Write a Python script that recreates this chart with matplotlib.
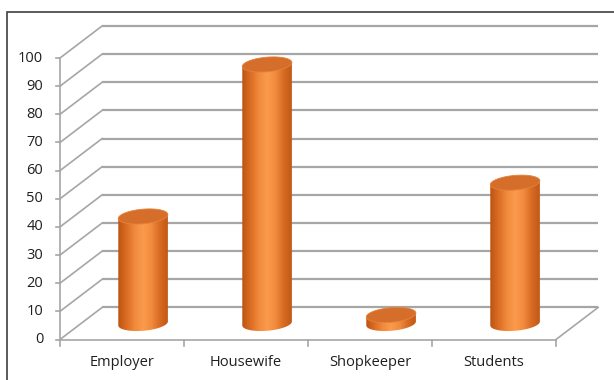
import numpy as np
import matplotlib.pyplot as plt
from matplotlib.patches import Polygon, Rectangle
from matplotlib.colors import LinearSegmentedColormap

categories = ['Employer', 'Housewife', 'Shopkeeper', 'Students']
values = [38, 92, 3, 50]
y_ticks = list(range(0, 101, 10))

# 3-d look: the back wall sits this far behind the front plane (data units)
depth_x = 0.34      # in category widths
depth_y = 11.4      # in value units
cyl_w = 0.40        # cylinder diameter, category widths
cyl_eh = 2.6        # half height of the end ellipses, value units
shear = 3.5         # slight tilt of the ellipses (value units per category width)

grid_col = '#a6a6a6'
body_cmap = LinearSegmentedColormap.from_list(
    'cyl', ['#bd5412', '#db6c24', '#f08a3c', '#fb9a4c', '#f28c3e', '#d86c24', '#c25816'])
top_col = '#d56e2b'
txt_col = '#1f1f1f'


def ellipse_pts(cx, cy, a, b, t):
    x = cx + a * np.cos(t)
    y = cy + b * np.sin(t) + shear * (x - cx)
    return list(zip(x, y))


fig = plt.figure(figsize=(6.14, 3.8), dpi=100)
ax = fig.add_axes([0, 0, 1, 1])
ax.axis('off')

ncat = len(categories)
x_right = ncat

# back wall gridlines and the left side wall diagonals
for v in y_ticks:
    ax.plot([depth_x, x_right + depth_x], [v + depth_y, v + depth_y],
            color=grid_col, lw=1.6, solid_capstyle='butt', zorder=1)
    ax.plot([0, depth_x], [v, v + depth_y], color=grid_col, lw=1.2, zorder=1)

# floor
ax.plot([0, x_right], [0, 0], color=grid_col, lw=1.2, zorder=1)
ax.plot([x_right, x_right + depth_x], [0, depth_y], color=grid_col, lw=1.2, zorder=1)

# front value axis with ticks
ax.plot([0, 0], [0, 100], color=grid_col, lw=1.2, zorder=4)
for v in y_ticks:
    ax.plot([-0.03, 0], [v, v], color=grid_col, lw=1.2, zorder=4)
    ax.text(-0.135, v, str(v), ha='right', va='center', fontsize=10.5,
            family='Open Sans', color=txt_col)

# category ticks and labels
for i in range(ncat + 1):
    ax.plot([i, i], [0, -2.2], color=grid_col, lw=1.2, zorder=4)
for i, name in enumerate(categories):
    ax.text(i + 0.5, -8.2, name, ha='center', va='center', fontsize=10.5,
            family='Open Sans', color=txt_col)

# cylinders
t_low = np.linspace(np.pi, 2 * np.pi, 60)
t_full = np.linspace(0, 2 * np.pi, 120)
for i, val in enumerate(values):
    cx = i + 0.5 + depth_x / 2
    base = depth_y / 2
    top = base + val
    r = cyl_w / 2
    pts = [(cx - r, top - shear * r)]
    pts += ellipse_pts(cx, base, r, cyl_eh, t_low)
    pts += [(cx + r, top + shear * r)]
    body = Polygon(pts, closed=True, facecolor='none', edgecolor='none')
    ax.add_patch(body)
    grad = np.linspace(0, 1, 200).reshape(1, -1)
    im = ax.imshow(grad, cmap=body_cmap, aspect='auto', interpolation='bilinear',
                   extent=(cx - r, cx + r, base - cyl_eh - shear * r,
                           top + cyl_eh + shear * r), zorder=3)
    im.set_clip_path(body)
    ax.add_patch(Polygon(ellipse_pts(cx, top, r, cyl_eh, t_full), closed=True,
                         facecolor=top_col, edgecolor='#e6823a', lw=0.6, zorder=3.5))

ax.set_xlim(-60 / 124, 554 / 124)
ax.set_ylim((339.5 - 380) / 2.815, 339.5 / 2.815)

# outer chart border (runs off the right and bottom edges)
fig.patches.append(Rectangle((7 / 614, -0.05), 1.1, 1 - 12 / 380 + 0.05,
                             transform=fig.transFigure, fill=False,
                             edgecolor='#404040', lw=1.2))

fig.savefig('out.png', dpi=100)
